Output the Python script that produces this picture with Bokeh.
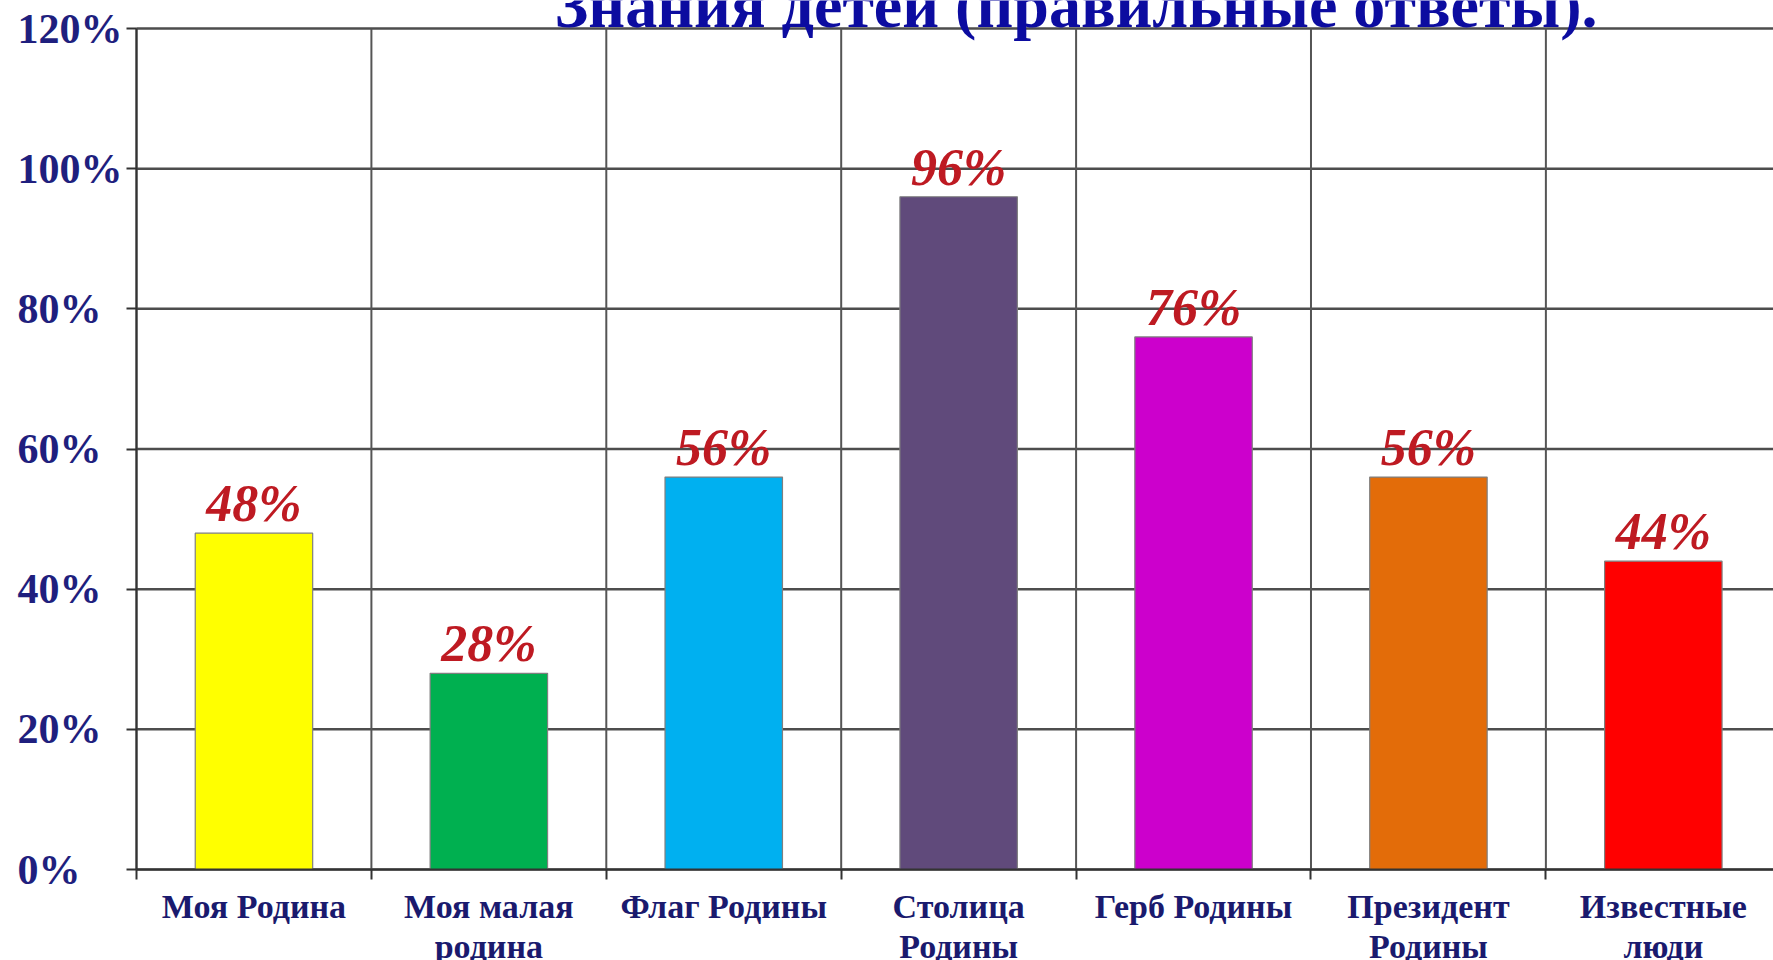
from bokeh.plotting import figure
from bokeh.models import Range1d, FixedTicker, ColumnDataSource, LabelSet, Label, LinearAxis
from bokeh.embed import file_html
from bokeh.resources import INLINE

# ---- data ----
categories = ["Моя Родина", "Моя малая\nродина", "Флаг Родины", "Столица\nРодины",
              "Герб Родины", "Президент\nРодины", "Известные\nлюди"]
values = [48, 28, 56, 96, 76, 56, 44]
colors = ["#FFFF00", "#00B050", "#00B0F0", "#604A7B", "#CC00CC", "#E36C09", "#FF0000"]
y_ticks = [0, 20, 40, 60, 80, 100, 120]
y_tick_labels = ["0%", "20%", "40%", "60%", "80%", "100%", "120%"]
title_text = "Знания детей (правильные ответы)."

n = len(categories)
centers = [i + 0.5 for i in range(n)]
boundaries = list(range(n + 1))
line1 = [c.split("\n")[0] for c in categories]
line2 = [c.split("\n")[1] if "\n" in c else "" for c in categories]
y_max = y_ticks[-1]

p = figure(width=1773, height=960,
           x_range=Range1d(-0.579, 6.969), y_range=Range1d(-12.98, 124.0),
           min_border_left=0, min_border_right=0, min_border_top=0, min_border_bottom=0,
           x_axis_type=None, y_axis_type=None,
           output_backend="svg", toolbar_location=None,
           background_fill_color="white", border_fill_color="white")
p.outline_line_color = None
p.xgrid.visible = False
p.ygrid.visible = False

# grid lines (within the plotting area only)
p.segment(x0=[0] * len(y_ticks), x1=[n] * len(y_ticks), y0=y_ticks, y1=y_ticks,
          line_color="#4d4d4d", line_width=2.5)
p.segment(x0=boundaries, x1=boundaries, y0=[0] * len(boundaries), y1=[y_max] * len(boundaries),
          line_color="#555555", line_width=2)

# axes drawn at the data origin
xax = LinearAxis(fixed_location=0, ticker=FixedTicker(ticks=boundaries), bounds=(0, n),
                 major_tick_out=10, major_tick_in=0, minor_tick_line_color=None,
                 major_label_text_color=None, major_label_text_font_size="1px",
                 axis_line_color="#333333", axis_line_width=2,
                 major_tick_line_color="#333333", major_tick_line_width=2)
yax = LinearAxis(fixed_location=0, ticker=FixedTicker(ticks=y_ticks), bounds=(0, y_max),
                 major_tick_out=10, major_tick_in=0, minor_tick_line_color=None,
                 major_label_text_color=None, major_label_text_font_size="1px",
                 axis_line_color="#333333", axis_line_width=2,
                 major_tick_line_color="#333333", major_tick_line_width=2)
p.add_layout(xax, "below")
p.add_layout(yax, "left")

# bars
src = ColumnDataSource(dict(x=centers, top=values, color=colors,
                            label=[f"{v}%" for v in values]))
p.vbar(x="x", top="top", width=0.5, bottom=0, fill_color="color",
       line_color="#7f7f7f", line_width=1.2, source=src)

p.add_layout(LabelSet(x="x", y="top", text="label", source=src, y_offset=12,
                      text_align="center", text_baseline="alphabetic",
                      text_font="Liberation Serif", text_font_style="bold italic",
                      text_font_size="52px", text_color="#BE1A22"))

# y tick labels (left aligned)
for yv, yt in zip(y_ticks, y_tick_labels):
    p.add_layout(Label(x=-0.507, y=yv, text=yt,
                       text_align="left", text_baseline="middle",
                       text_font="Liberation Serif", text_font_style="bold",
                       text_font_size="42px", text_color="#1F1F7E"))

# category labels (two lines)
for xc, t1, t2 in zip(centers, line1, line2):
    for yy, tt in ((-5.3, t1), (-11.0, t2)):
        if tt:
            p.add_layout(Label(x=xc, y=yy, text=tt,
                               text_align="center", text_baseline="middle",
                               text_font="Liberation Serif", text_font_style="bold",
                               text_font_size="34px", text_color="#1A1A6E"))

# title (partly clipped at top as in the original)
p.add_layout(Label(x=4.0, y=123.3, text=title_text, text_align="center",
                   text_baseline="alphabetic", text_font="Liberation Serif",
                   text_font_style="bold", text_font_size="64px", text_color="#0C0CA0"))

open("out.html", "w").write(file_html(p, INLINE))
